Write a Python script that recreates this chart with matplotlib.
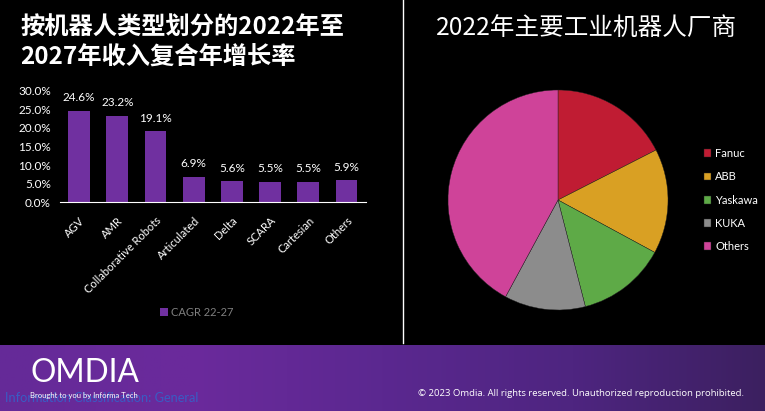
import matplotlib
matplotlib.use('Agg')
import matplotlib.pyplot as plt
from matplotlib.colors import LinearSegmentedColormap
import numpy as np

plt.rcParams['font.family'] = ['Lato', 'Noto Sans CJK SC', 'DejaVu Sans']

# bar chart data
robot_types = ['AGV', 'AMR', 'Collaborative Robots', 'Articulated', 'Delta', 'SCARA', 'Cartesian', 'Others']
cagr_values = [24.6, 23.2, 19.1, 6.9, 5.6, 5.5, 5.5, 5.9]
y_ticks = [0, 5, 10, 15, 20, 25, 30]

# pie chart data
vendors = ['Fanuc', 'ABB', 'Yaskawa', 'KUKA', 'Others']
shares = [17.5, 15.4, 13.1, 11.9, 42.1]
pie_colors = ['#c01c33', '#d9a023', '#5eaa47', '#8c8c8c', '#cf4399']

W, H = 765, 411


def px_axes(fig, left, top, right, bottom):
    return fig.add_axes([left / W, 1 - bottom / H, (right - left) / W, (bottom - top) / H])


fig = plt.figure(figsize=(W / 100, H / 100), dpi=100, facecolor='black')

# footer band
footer = px_axes(fig, 0, 345, W, H)
footer_cmap = LinearSegmentedColormap.from_list('footer', ['#652a98', '#6b2a9c', '#5b2890', '#4e2580', '#3c2060'])
footer.imshow(np.linspace(0, 1, 256).reshape(1, -1), aspect='auto', cmap=footer_cmap)
footer.axis('off')

# divider
fig.add_artist(plt.Line2D([403 / W, 403 / W], [1 - 343 / H, 1], color='white', lw=1))

# titles
fig.text(20 / W, 1 - 28 / H, '按机器人类型划分的2022年至', color='white', fontsize=17.5,
         family=['Noto Sans CJK SC'], weight='bold', va='center')
fig.text(20 / W, 1 - 58 / H, '2027年收入复合年增长率', color='white', fontsize=17.5,
         family=['Noto Sans CJK SC'], weight='bold', va='center')
fig.text(587 / W, 1 - 28 / H, '2022年主要工业机器人厂商', color='white', fontsize=17.7,
         family=['Noto Sans CJK SC'], ha='center', va='center')

# bar chart
ax = px_axes(fig, 60, 90.6, 365.7, 202.3)
ax.set_facecolor('black')
x = np.arange(len(robot_types))
bars = ax.bar(x, cagr_values, width=0.57, color='#7030a0', label='CAGR 22-27')
ax.set_xlim(-0.5, len(robot_types) - 0.5)
ax.set_ylim(0, 30)
ax.set_yticks(y_ticks)
ax.set_yticklabels([f'{t:.1f}%' for t in y_ticks], color='white', fontsize=8.5)
ax.set_xticks(x)
ax.set_xticklabels(robot_types, rotation=45, ha='right', rotation_mode='anchor', color='white', fontsize=8)
ax.tick_params(axis='y', length=0, pad=6.5)
ax.tick_params(axis='x', length=0, pad=9)
for s in ['top', 'right', 'left']:
    ax.spines[s].set_visible(False)
ax.spines['bottom'].set_color('white')
ax.spines['bottom'].set_linewidth(0.8)
for b, v in zip(bars, cagr_values):
    ax.annotate(f'{v}%', (b.get_x() + b.get_width() / 2, v), xytext=(0, 5.5), textcoords='offset points',
                ha='center', va='bottom', color='white', fontsize=8.5, annotation_clip=False)
fig.legend(*ax.get_legend_handles_labels(), loc='center', bbox_to_anchor=(197 / W, 1 - 312 / H), frameon=False,
           labelcolor='#7f7f7f', fontsize=8, handlelength=0.7, handleheight=0.7, handletextpad=0.3)

# pie chart
pie_ax = px_axes(fig, 448, 90, 668, 310)
wedges, _ = pie_ax.pie(shares, colors=pie_colors, startangle=90, counterclock=False, radius=1,
                       wedgeprops={'edgecolor': '#222222', 'linewidth': 0.3})
pie_ax.set_xlim(-1, 1)
pie_ax.set_ylim(-1, 1)
fig.legend(wedges, vendors, loc='center left', bbox_to_anchor=(693.5 / W, 1 - 200 / H), frameon=False,
           labelcolor='white', fontsize=8, handlelength=0.7, handleheight=0.7, handletextpad=0.35,
           labelspacing=1.1)

# footer text
fig.text(30 / W, 1 - 373 / H, 'OMDIA', color='white', fontsize=22.8, va='center')
fig.text(5 / W, 1 - 398 / H, 'Information Classification: General', color='#3a5cc4', fontsize=9.2, va='center')
fig.text(30 / W, 1 - 395 / H, 'Brought to you by Informa Tech', color='white', fontsize=5.5, va='center')
fig.text(744 / W, 1 - 393 / H, '© 2023 Omdia. All rights reserved. Unauthorized reproduction prohibited.',
         color='white', fontsize=6.8, family=['Open Sans'], ha='right', va='center')

fig.savefig('out.png', dpi=100, facecolor='black')
